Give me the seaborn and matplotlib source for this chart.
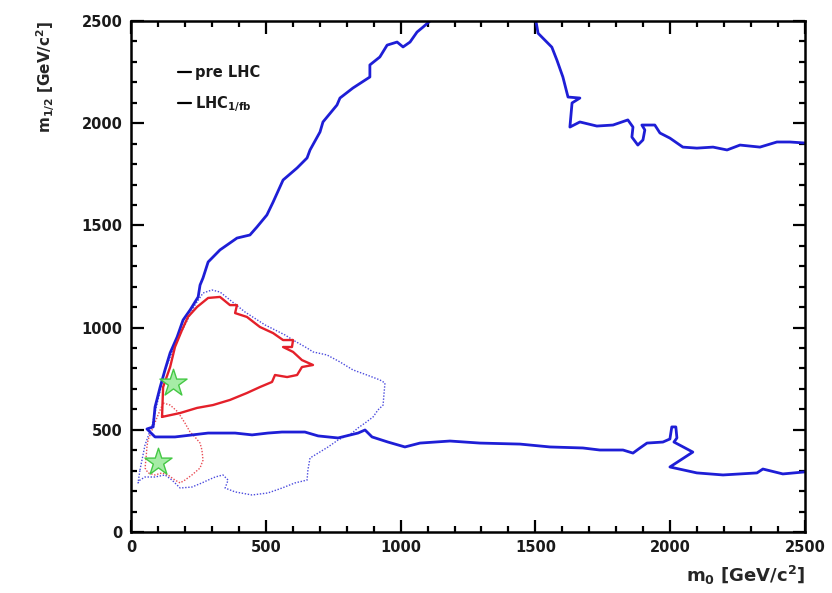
import matplotlib
matplotlib.use("Agg")
import matplotlib.pyplot as plt
from matplotlib.lines import Line2D
from matplotlib.ticker import MultipleLocator
import numpy as np
import pandas as pd
import seaborn as sns

# ---------------- data (m0, m1/2 in GeV/c^2) ----------------
# pre-LHC contour, solid blue: upper arm (from top edge down to the left corner)
# then the lower arm running to the right edge
pre_solid_m0 = [1109, 1083, 1061, 1035, 1009, 987, 950, 923, 886, 886, 823, 775, 764,
                712, 701, 664, 653, 616, 564, 527, 504, 467, 441, 393, 330, 286, 267,
                256, 249, 219, 193, 171, 145, 126, 108, 89, 82, 59,
                89, 163, 286, 386, 449, 508, 560, 645, 694, 768, 842, 868, 894, 953,
                1016, 1072, 1183, 1294, 1443, 1554, 1676, 1739, 1825, 1862, 1888,
                1914, 1973, 1999, 2006, 2021, 2025, 2014, 2084, 1999, 2099, 2196,
                2322, 2344, 2418, 2500]
pre_solid_m12 = [2500, 2470, 2446, 2397, 2373, 2397, 2382, 2324, 2285, 2226, 2172, 2123,
                 2089, 2006, 1957, 1869, 1830, 1781, 1722, 1614, 1551, 1492, 1453, 1438,
                 1380, 1321, 1243, 1208, 1150, 1086, 1037, 954, 876, 793, 709, 611, 514,
                 504,
                 465, 465, 484, 484, 475, 484, 489, 489, 470, 460, 484, 499, 465, 440,
                 416, 435, 445, 435, 430, 416, 411, 401, 401, 386, 411, 435, 440, 455,
                 514, 514, 460, 440, 391, 318, 289, 279, 289, 308, 284, 294]

# pre-LHC contour, solid blue: upper-right arm
pre_right_m0 = [1502, 1510, 1561, 1580, 1602, 1621, 1665, 1636, 1628, 1665, 1728, 1788,
                1843, 1862, 1858, 1880, 1899, 1906, 1895, 1943, 1962, 1999, 2047, 2099,
                2159, 2211, 2259, 2333, 2396, 2444, 2500]
pre_right_m12 = [2500, 2440, 2372, 2308, 2226, 2128, 2123, 2099, 1981, 2006, 1986, 1991,
                 2016, 1981, 1932, 1893, 1918, 1967, 1991, 1991, 1952, 1927, 1883, 1878,
                 1883, 1869, 1893, 1883, 1908, 1908, 1903]

# LHC 1/fb contour, solid red
lhc_solid_m0 = [115, 119, 145, 163, 189, 211, 245, 286, 330, 367, 393, 386, 430, 478,
                527, 564, 601, 597, 564, 601, 634, 675, 634, 616, 579, 534, 523, 478,
                430, 367, 304, 245, 182, 115]
lhc_solid_m12 = [563, 709, 807, 905, 988, 1052, 1101, 1145, 1150, 1110, 1110, 1071, 1052,
                 1003, 973, 939, 939, 905, 905, 881, 841, 817, 807, 768, 758, 768, 734,
                 709, 680, 646, 621, 607, 582, 563]

# pre-LHC contour, dotted blue
pre_dot_m0 = [33, 52, 78, 100, 126, 163, 200, 237, 267, 300, 330, 367, 423, 497, 571,
              601, 653, 675, 727, 775, 823, 875, 923, 942, 938, 935, 916, 898, 868, 842,
              820, 768, 731, 694, 664, 656, 653, 608, 560, 508, 449, 386, 349, 360, 341,
              312, 286, 263, 226, 182, 152, 126, 89, 52, 33, 26, 33]
pre_dot_m12 = [303, 426, 523, 646, 793, 915, 1013, 1110, 1169, 1184, 1174, 1135, 1076,
               1013, 964, 939, 900, 881, 866, 832, 793, 768, 744, 729, 670, 621, 597, 563,
               533, 509, 484, 450, 416, 386, 362, 303, 254, 240, 215, 191, 181, 196, 215,
               254, 279, 269, 254, 240, 220, 215, 254, 279, 269, 269, 254, 240, 303]

# LHC 1/fb contour, dotted red
lhc_dot_m0 = [119, 145, 174, 200, 219, 237, 256, 263, 267, 256, 226, 200, 182, 163, 137,
              115, 89, 63, 52, 56, 59, 63, 78, 100, 119]
lhc_dot_m12 = [631, 621, 587, 533, 489, 465, 435, 401, 352, 313, 279, 254, 240, 254, 279,
               289, 279, 289, 313, 367, 416, 450, 499, 572, 631]

# best-fit points
best_m0 = [156, 100]
best_m12 = [729, 342]

legend_labels = ["pre LHC", "LHC$_{1/fb}$"]

# ---------------- plot ----------------
sns.set_theme(style="ticks")
plt.rcParams["font.family"] = ["DejaVu Sans"]
plt.rcParams["font.weight"] = "bold"
plt.rcParams["mathtext.fontset"] = "custom"
plt.rcParams["mathtext.rm"] = "DejaVu Sans:bold"
plt.rcParams["mathtext.it"] = "DejaVu Sans:bold"
plt.rcParams["mathtext.bf"] = "DejaVu Sans:bold"
plt.rcParams["text.color"] = "#1a1a1a"

fig = plt.figure(figsize=(8.32, 5.93), dpi=100)
ax = fig.add_axes([0.1575, 0.1029, 0.81, 0.8617])

BLUE = "#1e1ed6"
RED = "#e4202a"

def curve(x, y, **kw):
    df = pd.DataFrame({"m0": x, "m12": y})
    sns.lineplot(data=df, x="m0", y="m12", sort=False, estimator=None, ax=ax, **kw)

curve(pre_dot_m0, pre_dot_m12, color=BLUE, lw=1.0, linestyle=(0, (1, 1.2)), alpha=0.8)
curve(lhc_dot_m0, lhc_dot_m12, color=RED, lw=1.0, linestyle=(0, (1, 1.2)), alpha=0.8)
curve(pre_solid_m0, pre_solid_m12, color=BLUE, lw=2.0)
curve(pre_right_m0, pre_right_m12, color=BLUE, lw=2.0)
curve(lhc_solid_m0, lhc_solid_m12, color=RED, lw=1.7)

sns.scatterplot(x=best_m0, y=best_m12, marker="*", s=420, color="#a6eca6",
                edgecolor="#44c844", linewidth=1.0, ax=ax, zorder=5)

ax.set_xlim(0, 2500)
ax.set_ylim(0, 2500)
ax.xaxis.set_major_locator(MultipleLocator(500))
ax.yaxis.set_major_locator(MultipleLocator(500))
ax.xaxis.set_minor_locator(MultipleLocator(100))
ax.yaxis.set_minor_locator(MultipleLocator(100))
ax.tick_params(which="both", direction="in", top=True, right=True, color="black",
               labelcolor="#1a1a1a", labelsize=10.5, width=1.6)
ax.tick_params(which="major", length=9, pad=6)
ax.tick_params(which="minor", length=4.5)
for lab in ax.get_xticklabels() + ax.get_yticklabels():
    lab.set_fontweight("bold")
for s in ax.spines.values():
    s.set_linewidth(1.8)
    s.set_color("black")

ax.set_xlabel("m$_0$ [GeV/c$^2$]", fontsize=13, fontweight="bold", ha="right", x=1.0,
              labelpad=6)
ax.set_ylabel("m$_{1/2}$ [GeV/c$^2$]", fontsize=11, fontweight="bold", ha="right", y=1.0,
              labelpad=18)

handles = [Line2D([0], [0], color="black", lw=1.6) for _ in legend_labels]
ax.legend(handles, legend_labels, loc="upper left", bbox_to_anchor=(0.05, 0.94),
          frameon=False, handlelength=0.9, handletextpad=0.3, labelspacing=0.95,
          prop={"size": 10.5, "weight": "bold"})

fig.savefig("out.png", dpi=100)
